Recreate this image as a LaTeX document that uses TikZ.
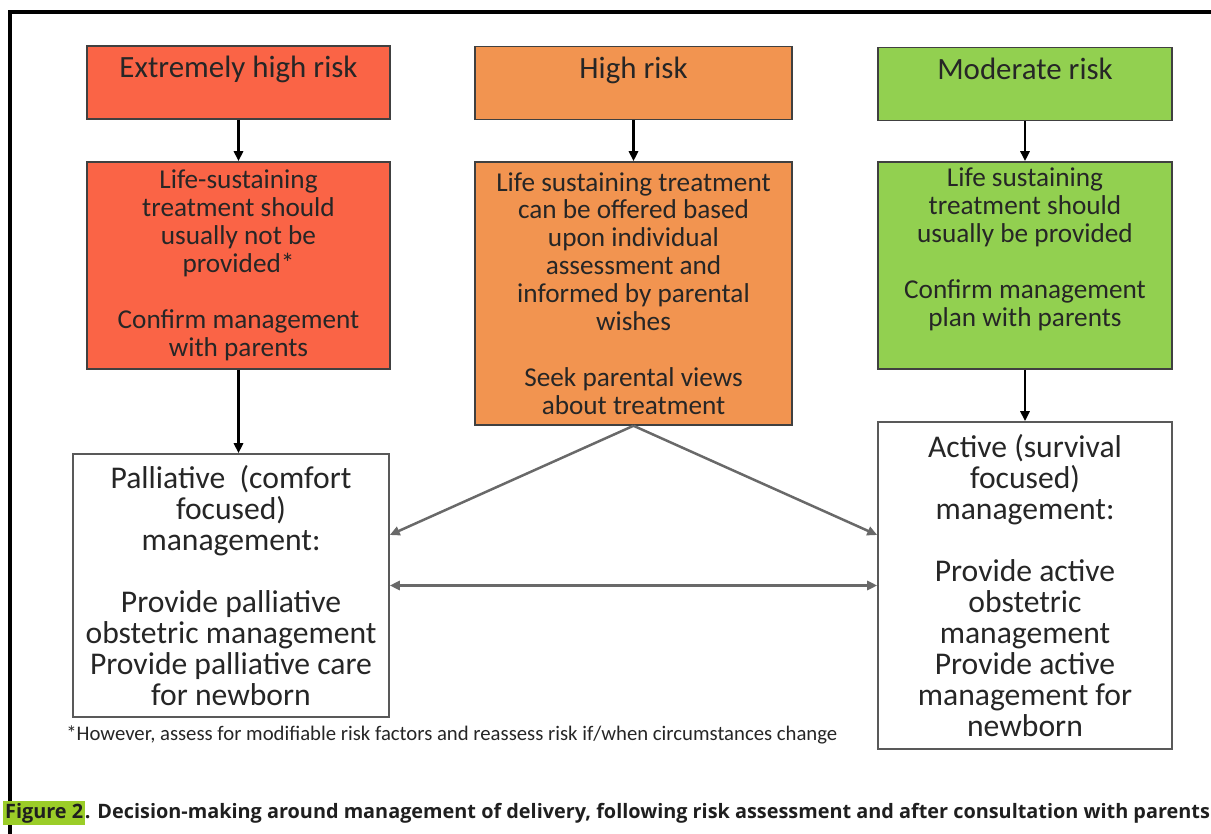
\documentclass[tikz,border=0pt]{standalone}
\usepackage{fontspec}
\setmainfont{Carlito}
\newfontfamily\capfont{Open Sans}
\usetikzlibrary{positioning,arrows.meta}
\setlength{\fboxsep}{1pt}

\definecolor{xhighred}{RGB}{250,100,70}
\definecolor{highorange}{RGB}{242,148,80}
\definecolor{modgreen}{RGB}{146,208,80}
\definecolor{figgreen}{RGB}{155,205,40}
\definecolor{linegray}{RGB}{105,105,105}

\tikzset{
  riskbox/.style={draw=black!75, line width=0.9pt, align=center, text=black!85, inner sep=2pt},
  titlebox/.style={riskbox, font=\fontsize{17.6}{17.6}\selectfont, minimum height=1.46cm},
  carebox/.style={riskbox, font=\fontsize{15.5}{15.9}\selectfont, minimum height=4.14cm},
  mgmtbox/.style={riskbox, draw=black!65, fill=white, font=\fontsize{18}{17.6}\selectfont},
  downarrow/.style={-{Triangle[length=0.2cm,width=0.18cm]}, line width=0.05cm},
  grayarrow/.style={downarrow, draw=linegray},
}

\begin{document}
\begin{tikzpicture}[x=0.02cm,y=-0.02cm]
\useasboundingbox (0,0) rectangle (1211,834);
% outer frame, open to the right and bottom
\draw[line width=0.085cm] (10,840) -- (10,12) -- (1220,12);

% risk levels
\node[titlebox, fill=xhighred, minimum width=6.06cm] (xhigh) at (238.5,82.5) {Extremely high risk\\[-5.5pt]\strut};
\node[titlebox, fill=highorange, minimum width=6.34cm] (high) at (633.5,83) {High risk\\[-5.5pt]\strut};
\node[titlebox, fill=modgreen, minimum width=5.88cm] (moderate) at (1025,84) {Moderate risk\\[-5.5pt]\strut};

% treatment
\node[carebox, fill=xhighred, minimum width=6.06cm] (xhighcare) at (238.5,265.5)
  {Life-sustaining\\treatment should\\usually not be\\provided*\\[15.9pt]Confirm management\\with parents};
\node[carebox, fill=highorange, minimum width=6.34cm, minimum height=5.26cm] (highcare) at (633.5,293.5)
  {Life sustaining treatment\\can be offered based\\upon individual\\assessment and\\informed by parental\\wishes\\[15.9pt]Seek parental views\\about treatment};
\node[carebox, fill=modgreen, minimum width=5.88cm] (modcare) at (1025,265.5)
  {Life sustaining\\treatment should\\usually be provided\\[15.9pt]Confirm management\\plan with parents\\\strut};

% management
\node[mgmtbox, minimum width=6.32cm, minimum height=5.26cm] (palliative) at (231,585.5)
  {Palliative\ \ (comfort\\focused)\\management:\\[17.6pt]Provide palliative\\obstetric management\\Provide palliative care\\for newborn};
\node[mgmtbox, minimum width=5.88cm, minimum height=6.54cm] (active) at (1025,585.5)
  {Active (survival\\focused)\\management:\\[17.6pt]Provide active\\obstetric\\management\\Provide active\\management for\\newborn};

\draw[downarrow] (xhigh) -- (xhighcare);
\draw[downarrow] (high) -- (highcare);
\draw[downarrow] (moderate) -- (modcare);
\draw[downarrow] (xhighcare) -- (xhighcare |- palliative.north);
\draw[downarrow] (modcare) -- (active);

\draw[grayarrow] (highcare.south) -- ([yshift=1.01cm]palliative.east);
\draw[grayarrow] (highcare.south) -- ([yshift=1.01cm]active.west);
\draw[grayarrow, {Triangle[length=0.2cm,width=0.18cm]}-{Triangle[length=0.2cm,width=0.18cm]}] (palliative) -- (active);

\node[anchor=west, inner sep=0pt, text=black!85, font=\fontsize{11.8}{13}\selectfont] (note) at (66,735)
  {*However, assess for modifiable risk factors and reassess risk if/when circumstances change};
\node[anchor=west, inner sep=0pt, text=black!88, font=\capfont\bfseries\fontsize{11.3}{13}\selectfont] (caption) at (3,813)
  {\colorbox{figgreen}{Figure 2}. Decision-making around management of delivery, following risk assessment and after consultation with parents};
\end{tikzpicture}
\end{document}
